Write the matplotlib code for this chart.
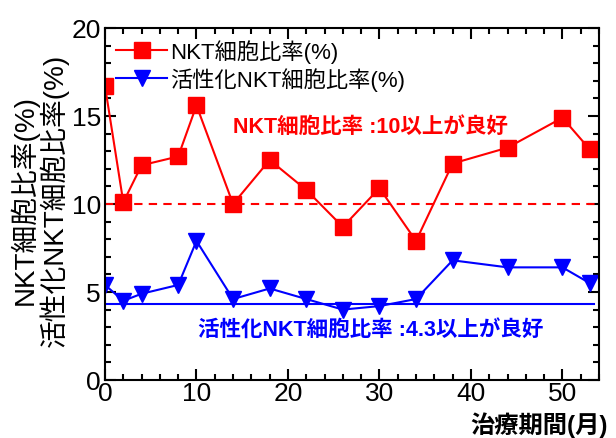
import matplotlib
matplotlib.use("Agg")
import matplotlib.pyplot as plt
from matplotlib.ticker import MultipleLocator

plt.rcParams['font.family'] = ['Liberation Sans', 'Noto Sans CJK JP', 'DejaVu Sans']

months = [0, 2, 4, 8, 10, 14, 18, 22, 26, 30, 34, 38, 44, 50, 53]
nkt_ratio = [16.7, 10.1, 12.2, 12.7, 15.6, 10.0, 12.5, 10.8, 8.7, 10.9, 7.9, 12.3, 13.2, 14.9, 13.1]
act_nkt_ratio = [5.4, 4.5, 4.9, 5.4, 7.9, 4.6, 5.2, 4.6, 4.0, 4.2, 4.6, 6.8, 6.4, 6.4, 5.5]
nkt_threshold = 10
act_threshold = 4.3

label_nkt = "NKT細胞比率(%)"
label_act = "活性化NKT細胞比率(%)"
note_nkt = "NKT細胞比率 :10以上が良好"
note_act = "活性化NKT細胞比率 :4.3以上が良好"
ylabel = "NKT細胞比率(%)\n活性化NKT細胞比率(%)"
xlabel = "治療期間(月)"

fig = plt.figure(figsize=(6.16, 4.39), dpi=100)
ax = fig.add_axes([105/616, 1-381/439, (599-105)/616, (381-29)/439])

red = '#ff0000'
blue = '#0000ff'

ax.plot([0, 54], [nkt_threshold]*2, color=red, ls=(0, (4, 3)), lw=1.5)
ax.plot([0, 53.5], [act_threshold]*2, color=blue, ls='-', lw=1.5)
ax.plot(months, nkt_ratio, color=red, marker='s', ms=12, lw=1.5, label=label_nkt)
ax.plot(months, act_nkt_ratio, color=blue, marker='v', ms=12, lw=1.5, label=label_act)

ax.set_xlim(0, 54)
ax.set_ylim(0, 20)
ax.xaxis.set_major_locator(MultipleLocator(10))
ax.xaxis.set_minor_locator(MultipleLocator(2))
ax.yaxis.set_major_locator(MultipleLocator(5))
ax.yaxis.set_minor_locator(MultipleLocator(1))
ax.tick_params(which='both', direction='in', top=True, right=True, width=1.5, labelsize=19)
ax.tick_params(axis='x', pad=1)
ax.tick_params(axis='y', pad=3)
ax.tick_params(which='major', length=8)
ax.tick_params(which='minor', length=4)
for s in ax.spines.values():
    s.set_linewidth(1.5)

ax.legend(loc='upper left', bbox_to_anchor=(0.0, 1.0), frameon=False, fontsize=16,
          handlelength=2.3, handletextpad=0.15, labelspacing=0.2, borderaxespad=0.1)

ax.text(29.0, 14.4, note_nkt, color=red, fontsize=15.5, fontweight='bold',
        ha='center', va='center')
ax.text(29.0, 2.9, note_act, color=blue, fontsize=15.5, fontweight='bold',
        ha='center', va='center')

fig.text(39/616, 1-200/439, ylabel, rotation=90, ha='center', va='center',
         fontsize=20, linespacing=1.0)
fig.text(608/616, 1-425/439, xlabel, ha='right', va='center', fontsize=17.5, fontweight='bold')

fig.savefig('out.png', dpi=100)
